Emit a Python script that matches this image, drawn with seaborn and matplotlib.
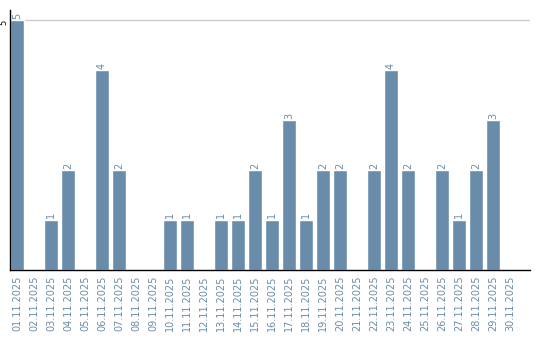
import matplotlib
matplotlib.use("Agg")
import matplotlib.pyplot as plt
import seaborn as sns
import pandas as pd

dates = [f"{d:02d}.11.2025" for d in range(1, 31)]
values = [5, 0, 1, 2, 0, 4, 2, 0, 0, 1, 1, 0, 1, 1, 2, 1, 3, 1, 2, 2,
          0, 2, 4, 2, 0, 2, 1, 2, 3, 0]

df = pd.DataFrame({"date": dates, "value": values})

sns.set_style("white")
fig = plt.figure(figsize=(5.4, 3.4), dpi=100)
ax = fig.add_axes([10/540, 70/340, 520/540, 260/340])
color = "#6a8cab"
sns.barplot(data=df, x="date", y="value", color=color, saturation=1,
            width=0.82, ax=ax)

ax.set_ylim(0, 5.2)
ax.set_xlim(-0.41, 30.18)
ax.set_yticks([5])
ax.set_yticklabels(["5"], rotation=90, va="top", fontsize=6, color="black")
ax.axhline(5, color="#cccccc", lw=1, zorder=0)
ax.tick_params(axis="y", length=0, pad=1)
ax.tick_params(axis="x", length=0, pad=4)
ax.set_xticks(range(len(dates)))
ax.set_xticklabels(dates, rotation=90, fontsize=7, color=color)
ax.set_xlabel("")
ax.set_ylabel("")
for s in ["top", "right"]:
    ax.spines[s].set_visible(False)
ax.spines["left"].set_color("black")
ax.spines["bottom"].set_color("black")
ax.spines["left"].set_linewidth(1)
ax.spines["bottom"].set_linewidth(1)

for i, v in enumerate(values):
    if v > 0:
        ax.text(i, v + 0.03, str(v), rotation=90, ha="center", va="bottom",
                fontsize=7, color=color)

fig.savefig("out.png", dpi=100)
